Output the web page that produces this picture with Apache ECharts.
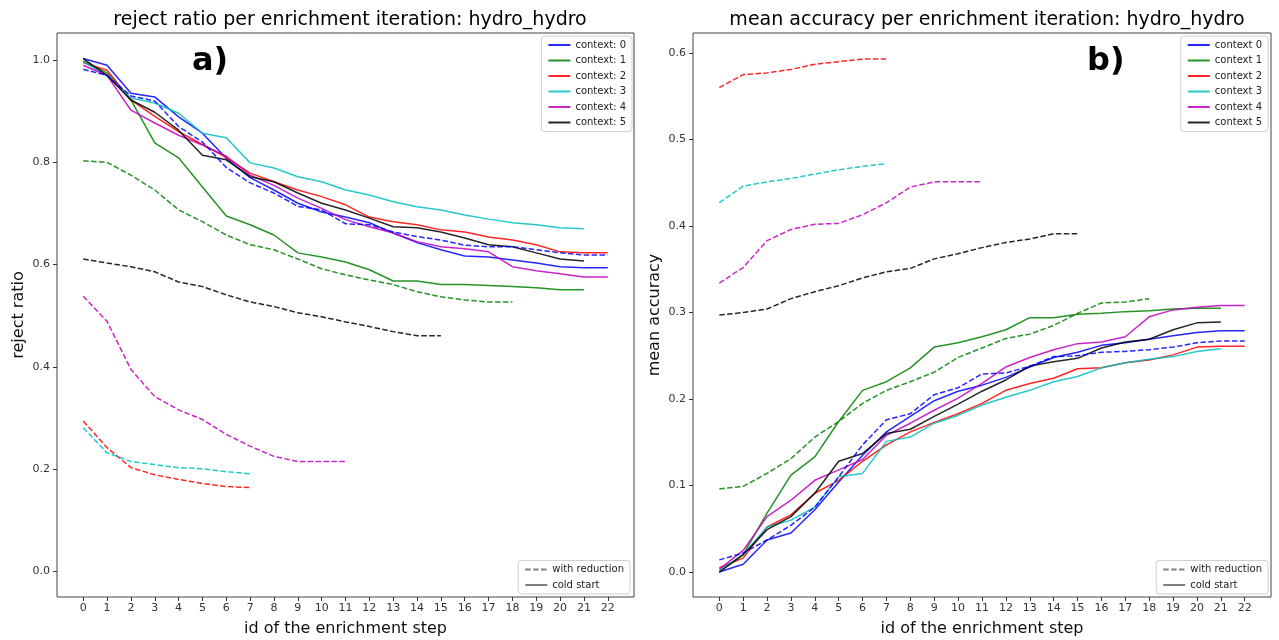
<!DOCTYPE html>
<html>
<head>
<meta charset="utf-8">
<script src="https://cdn.jsdelivr.net/npm/echarts@6/dist/echarts.min.js"></script>
<style>html,body{margin:0;padding:0;background:#fff}#c{width:1279px;height:640px}</style>
</head>
<body>
<div id="c"></div>
<script>
// ---- data ----
const steps = [0,1,2,3,4,5,6,7,8,9,10,11,12,13,14,15,16,17,18,19,20,21,22];
const leftTicksY = [0, 0.2, 0.4, 0.6, 0.8, 1.0];
const rightTicksY = [0, 0.1, 0.2, 0.3, 0.4, 0.5, 0.6];
const contexts = [0,1,2,3,4,5];
const colors = ['#0000ff','#008000','#ff0000','#00bfbf','#bf00bf','#000000'];

// reject ratio, cold start (solid)
const rejCold0 = [1.003,0.99,0.935,0.928,0.889,0.857,0.808,0.77,0.746,0.72,0.703,0.693,0.682,0.662,0.643,0.629,0.617,0.615,0.609,0.603,0.596,0.594,0.594];
const rejCold1 = [0.998,0.975,0.922,0.838,0.809,0.752,0.695,0.678,0.658,0.623,0.615,0.605,0.59,0.568,0.568,0.561,0.561,0.559,0.557,0.555,0.551,0.551];
const rejCold2 = [0.995,0.98,0.922,0.89,0.86,0.835,0.81,0.779,0.762,0.746,0.733,0.717,0.693,0.684,0.678,0.668,0.664,0.654,0.648,0.639,0.625,0.623,0.623];
const rejCold3 = [0.996,0.97,0.926,0.916,0.896,0.857,0.848,0.799,0.789,0.772,0.762,0.746,0.736,0.723,0.713,0.707,0.697,0.689,0.682,0.678,0.672,0.670];
const rejCold4 = [0.99,0.97,0.902,0.877,0.853,0.834,0.812,0.775,0.755,0.73,0.71,0.688,0.674,0.662,0.645,0.635,0.631,0.625,0.596,0.588,0.582,0.576,0.576];
const rejCold5 = [1.003,0.97,0.922,0.898,0.863,0.814,0.805,0.772,0.762,0.740,0.720,0.707,0.691,0.674,0.672,0.664,0.652,0.639,0.635,0.623,0.611,0.607];
// reject ratio, with reduction (dashed)
const rejRed0 = [0.982,0.97,0.93,0.92,0.87,0.84,0.79,0.76,0.74,0.714,0.707,0.68,0.678,0.664,0.655,0.648,0.638,0.635,0.635,0.629,0.623,0.619,0.619];
const rejRed1 = [0.803,0.80,0.775,0.746,0.707,0.684,0.658,0.639,0.629,0.611,0.592,0.58,0.57,0.561,0.547,0.537,0.531,0.527,0.527];
const rejRed2 = [0.294,0.242,0.203,0.189,0.18,0.172,0.166,0.164];
const rejRed3 = [0.281,0.232,0.215,0.209,0.203,0.201,0.195,0.191];
const rejRed4 = [0.538,0.489,0.395,0.342,0.316,0.297,0.268,0.245,0.225,0.215,0.215,0.215];
const rejRed5 = [0.611,0.603,0.596,0.586,0.566,0.557,0.541,0.527,0.518,0.506,0.498,0.488,0.479,0.469,0.461,0.461];

// mean accuracy, cold start (solid)
const accCold0 = [0.0,0.009,0.037,0.045,0.072,0.104,0.135,0.162,0.18,0.198,0.209,0.216,0.225,0.237,0.248,0.254,0.262,0.265,0.269,0.273,0.277,0.279,0.279];
const accCold1 = [0.0,0.02,0.068,0.112,0.133,0.174,0.21,0.22,0.236,0.26,0.265,0.272,0.28,0.294,0.294,0.298,0.299,0.301,0.302,0.304,0.305,0.305];
const accCold2 = [0.005,0.016,0.052,0.066,0.091,0.106,0.128,0.147,0.162,0.173,0.183,0.195,0.21,0.218,0.224,0.235,0.236,0.242,0.245,0.251,0.26,0.261,0.261];
const accCold3 = [0.002,0.02,0.052,0.06,0.075,0.110,0.114,0.151,0.156,0.172,0.181,0.193,0.202,0.21,0.22,0.226,0.236,0.242,0.246,0.249,0.255,0.258];
const accCold4 = [0.003,0.025,0.064,0.083,0.106,0.118,0.13,0.158,0.172,0.187,0.201,0.218,0.237,0.248,0.257,0.264,0.266,0.272,0.295,0.303,0.306,0.308,0.308];
const accCold5 = [0.0,0.02,0.049,0.064,0.091,0.128,0.137,0.16,0.165,0.18,0.194,0.209,0.222,0.238,0.243,0.247,0.259,0.266,0.269,0.28,0.288,0.289];
// mean accuracy, with reduction (dashed)
const accRed0 = [0.014,0.022,0.037,0.054,0.075,0.110,0.147,0.176,0.183,0.205,0.213,0.229,0.23,0.238,0.249,0.25,0.254,0.255,0.257,0.26,0.265,0.267,0.267];
const accRed1 = [0.096,0.099,0.114,0.131,0.156,0.174,0.195,0.21,0.22,0.231,0.248,0.259,0.27,0.275,0.285,0.299,0.311,0.312,0.316];
const accRed2 = [0.56,0.575,0.577,0.581,0.587,0.59,0.593,0.593];
const accRed3 = [0.427,0.446,0.451,0.455,0.46,0.465,0.469,0.472];
const accRed4 = [0.334,0.352,0.383,0.396,0.402,0.403,0.413,0.427,0.445,0.451,0.451,0.451];
const accRed5 = [0.297,0.300,0.304,0.316,0.324,0.331,0.34,0.347,0.351,0.362,0.368,0.375,0.381,0.385,0.391,0.391];

const leftTitle = 'reject ratio per enrichment iteration: hydro_hydro';
const rightTitle = 'mean accuracy per enrichment iteration: hydro_hydro';
const xName = 'id of the enrichment step';
const leftYName = 'reject ratio';
const rightYName = 'mean accuracy';
const leftNames = contexts.map(c => 'context: ' + c);
const rightNames = contexts.map(c => 'context ' + c);
const styleNames = ['with reduction', 'cold start'];

// ---- chart ----
const FONT = '"DejaVu Sans", sans-serif';
const rejCold = [rejCold0,rejCold1,rejCold2,rejCold3,rejCold4,rejCold5];
const rejRed = [rejRed0,rejRed1,rejRed2,rejRed3,rejRed4,rejRed5];
const accCold = [accCold0,accCold1,accCold2,accCold3,accCold4,accCold5];
const accRed = [accRed0,accRed1,accRed2,accRed3,accRed4,accRed5];
const toPairs = arr => arr.map((v, i) => [steps[i], v]);

function mkSeries(name, arr, idx, ci, dashed) {
  return {
    type: 'line', name: name, xAxisIndex: idx, yAxisIndex: idx,
    data: toPairs(arr), symbol: 'none', silent: true, animation: false,
    lineStyle: { color: colors[ci], width: 1.5, opacity: 0.85, type: dashed ? [5.5, 2.4] : 'solid' },
    itemStyle: { color: colors[ci] }
  };
}
const series = [];
contexts.forEach((c, i) => series.push(mkSeries(leftNames[i], rejCold[i], 0, i, false)));
contexts.forEach((c, i) => series.push(mkSeries(leftNames[i] + ' (with reduction)', rejRed[i], 0, i, true)));
contexts.forEach((c, i) => series.push(mkSeries(rightNames[i], accCold[i], 1, i, false)));
contexts.forEach((c, i) => series.push(mkSeries(rightNames[i] + ' (with reduction)', accRed[i], 1, i, true)));
// style-legend proxies (no data)
series.push({ type: 'line', name: styleNames[0], xAxisIndex: 0, yAxisIndex: 0, data: [], symbol: 'none',
  lineStyle: { color: '#808080', width: 1.5, type: [5.5, 2.4] }, itemStyle: { color: '#808080' } });
series.push({ type: 'line', name: styleNames[1], xAxisIndex: 0, yAxisIndex: 0, data: [], symbol: 'none',
  lineStyle: { color: '#808080', width: 1.5 }, itemStyle: { color: '#808080' } });

function xAxis(idx) {
  return {
    type: 'value', gridIndex: idx, min: -1.1, max: 23.1,
    name: xName, nameLocation: 'middle', nameGap: 24,
    nameTextStyle: { fontFamily: FONT, fontSize: 16, color: '#111' },
    axisLine: { show: false, onZero: false },
    axisTick: { show: true, length: 4, inside: false, customValues: steps, lineStyle: { color: '#333' } },
    axisLabel: { customValues: steps, fontFamily: FONT, fontSize: 11, color: '#333', margin: 6 },
    splitLine: { show: false }
  };
}
function yAxis(idx, min, max, ticks, name) {
  return {
    type: 'value', gridIndex: idx, min: min, max: max,
    name: name, nameLocation: 'middle', nameGap: 30, nameRotate: 90,
    nameTextStyle: { fontFamily: FONT, fontSize: 16, color: '#111' },
    axisLine: { show: false, onZero: false },
    axisTick: { show: true, length: 4, customValues: ticks, lineStyle: { color: '#333' } },
    axisLabel: { customValues: ticks, fontFamily: FONT, fontSize: 11, color: '#333', margin: 7,
      formatter: v => v.toFixed(1) },
    splitLine: { show: false }
  };
}
function legend(data, right, top, bottom) {
  const l = {
    data: data, orient: 'vertical', right: right,
    itemWidth: 22, itemHeight: 10, itemGap: 5.5,
    padding: [4, 6, 4, 6],
    backgroundColor: 'rgba(255,255,255,0.8)', borderColor: '#d0d0d0', borderWidth: 1, borderRadius: 3,
    textStyle: { fontFamily: FONT, fontSize: 10, color: '#222' },
    itemStyle: { opacity: 0, borderWidth: 0 },
    selectedMode: false
  };
  if (top !== null) l.top = top; else l.bottom = bottom;
  return l;
}

const option = {
  backgroundColor: '#fff',
  animation: false,
  title: [
    { text: leftTitle, left: 345, top: 6, textAlign: 'center',
      textStyle: { fontFamily: FONT, fontSize: 19, fontWeight: 'normal', color: '#000' } },
    { text: rightTitle, left: 982, top: 6, textAlign: 'center',
      textStyle: { fontFamily: FONT, fontSize: 19, fontWeight: 'normal', color: '#000' } }
  ],
  grid: [
    { left: 57, top: 33, width: 577, height: 564, show: true, borderColor: '#444', borderWidth: 1,
      backgroundColor: 'transparent', containLabel: false, outerBoundsMode: 'none' },
    { left: 693, top: 33, width: 578, height: 564, show: true, borderColor: '#444', borderWidth: 1,
      backgroundColor: 'transparent', containLabel: false, outerBoundsMode: 'none' }
  ],
  xAxis: [xAxis(0), xAxis(1)],
  yAxis: [
    yAxis(0, -0.05, 1.053, leftTicksY, leftYName),
    yAxis(1, -0.0289, 0.6231, rightTicksY, rightYName)
  ],
  legend: [
    legend(leftNames, 1279 - 632, 36, null),
    legend(rightNames, 1279 - 1268, 36, null),
    legend(styleNames, 1279 - 630, null, 46),
    legend(styleNames, 1279 - 1268, null, 46)
  ],
  graphic: [
    { type: 'text', left: 192, top: 46, style: { text: 'a)', font: 'bold 32px "DejaVu Sans", sans-serif', fill: '#000' } },
    { type: 'text', left: 1087, top: 46, style: { text: 'b)', font: 'bold 32px "DejaVu Sans", sans-serif', fill: '#000' } }
  ],
  series: series
};

const chart = echarts.init(document.getElementById('c'), null, { renderer: 'canvas' });
chart.setOption(option);
</script>
</body>
</html>
